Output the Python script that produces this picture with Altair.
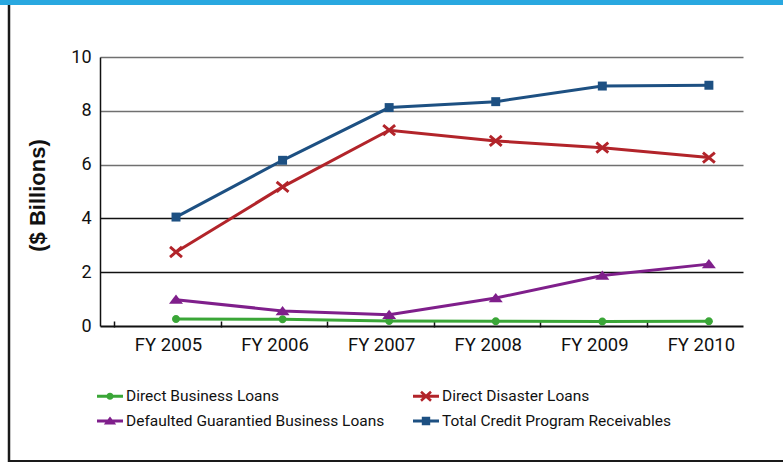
import altair as alt
import pandas as pd
import math

# ---- data ----
years = [2005, 2006, 2007, 2008, 2009, 2010]
series_names = [
    "Direct Business Loans",
    "Direct Disaster Loans",
    "Defaulted Guarantied Business Loans",
    "Total Credit Program Receivables",
]
direct_business = [0.26, 0.25, 0.19, 0.18, 0.17, 0.18]
direct_disaster = [2.75, 5.17, 7.28, 6.88, 6.63, 6.26]
defaulted_guarantied = [0.98, 0.56, 0.42, 1.04, 1.88, 2.30]
total_receivables = [4.05, 6.16, 8.12, 8.34, 8.92, 8.95]
colors = ["#3aa637", "#b2242a", "#7f1f8b", "#1d5082"]

values_by_series = [direct_business, direct_disaster, defaulted_guarantied, total_receivables]
rows = []
for name, vals in zip(series_names, values_by_series):
    for yr, v in zip(years, vals):
        rows.append({"year": yr, "value": v, "series": name})
df = pd.DataFrame(rows)

FONT = "Roboto"


# ---- marker shapes (unit-space SVG paths) ----
def xshape(wx, wy, hw):
    def bar(ax, ay, bx, by):
        dx, dy = bx - ax, by - ay
        L = math.hypot(dx, dy)
        nx, ny = -dy / L * hw, dx / L * hw
        return [(ax + nx, ay + ny), (bx + nx, by + ny), (bx - nx, by - ny), (ax - nx, ay - ny)]

    def cross(p):
        e1 = (p[1][0] - p[0][0], p[1][1] - p[0][1])
        e2 = (p[2][0] - p[1][0], p[2][1] - p[1][1])
        return e1[0] * e2[1] - e1[1] * e2[0]

    out = ""
    for b in (bar(-wx, -wy, wx, wy), bar(-wx, wy, wx, -wy)):
        if cross(b) > 0:
            b = b[::-1]
        out += "M%.3f,%.3f" % b[0] + "".join("L%.3f,%.3f" % p for p in b[1:]) + "Z"
    return out


def circ(r):
    return "M%.3f,0A%.3f,%.3f 0 1,0 %.3f,0A%.3f,%.3f 0 1,0 %.3f,0Z" % (r, r, r, -r, r, r, r)


def sq(h):
    return "M%.3f,%.3fV%.3fH%.3fV%.3fZ" % (-h, -h, h, h, -h)


def tri(w, yb, yt):
    return "M%.3f,%.3fL%.3f,%.3fL0,%.3fZ" % (-w, yb, w, yb, yt)


marker_paths = [circ(0.57), xshape(0.85, 0.72, 0.21), tri(1.0, 0.6, -0.72), sq(0.64)]

bar = "M-1.3,-0.15V0.15H1.3V-0.15Z"
legend_path_by_name = {
    series_names[0]: bar + circ(0.36),
    series_names[1]: bar + xshape(0.5, 0.45, 0.13),
    series_names[2]: bar + tri(0.62, 0.36, -0.45),
    series_names[3]: bar + sq(0.42),
}
color_by_name = dict(zip(series_names, colors))
# legend fills column by column: column 1 = first two entries
legend_order = [series_names[0], series_names[2], series_names[1], series_names[3]]

# ---- encodings ----
x_enc = alt.X(
    "year:Q",
    scale=alt.Scale(domain=[2004.287, 2010.32], nice=False, zero=False),
    axis=alt.Axis(
        values=years,
        labelExpr="'FY ' + datum.value",
        title=None,
        grid=False,
        domain=False,
        offset=-5,
        ticks=True,
        tickSize=6,
        tickWidth=1.5,
        tickColor="#111",
        tickOffset=-62,
        labelOffset=54,
        labelPadding=8,
        labelFont=FONT,
        labelFontSize=18.5,
        labelColor="#111",
    ),
)
y_enc = alt.Y(
    "value:Q",
    scale=alt.Scale(domain=[0, 10], nice=False),
    axis=alt.Axis(
        values=[0, 2, 4, 6, 8, 10],
        title="($ Billions)",
        titleFont="Liberation Sans",
        titleFontSize=22,
        titleFontWeight="bold",
        titleColor="#111",
        titleAngle=270,
        titleAlign="center",
        titleBaseline="middle",
        titleX=-63,
        titleY=138,
        ticks=False,
        domain=True,
        domainColor="#111",
        domainWidth=1.5,
        grid=True,
        gridColor={"condition": {"test": "datum.value <= 4", "value": "#111"}, "value": "#707070"},
        gridWidth={"condition": {"test": "datum.value == 0", "value": 2}, "value": 1.3},
        labelFont=FONT,
        labelFontSize=18,
        labelColor="#111",
        labelPadding=9,
    ),
)

color_noleg = alt.Color("series:N", scale=alt.Scale(domain=series_names, range=colors), legend=None)

lines = alt.Chart(df).mark_line(strokeWidth=3).encode(x=x_enc, y=y_enc, color=color_noleg)

points = alt.Chart(df).mark_point(filled=True, opacity=1, size=196, strokeWidth=0).encode(
    x=x_enc,
    y=y_enc,
    color=color_noleg,
    shape=alt.Shape("series:N", scale=alt.Scale(domain=series_names, range=marker_paths), legend=None),
)

leg = alt.Legend(
    title=None,
    orient="none",
    legendX=0,
    legendY=329,
    columns=2,
    columnPadding=28,
    rowPadding=6,
    symbolSize=400,
    symbolStrokeWidth=0,
    labelFont=FONT,
    labelFontSize=15.5,
    labelColor="#111",
    labelOffset=6,
    labelLimit=400,
)

legend_layer = alt.Chart(df).transform_filter("false").mark_point(filled=True, opacity=1, size=400, strokeWidth=0).encode(
    x=x_enc,
    y=y_enc,
    color=alt.Color(
        "series:N",
        scale=alt.Scale(domain=legend_order, range=[color_by_name[n] for n in legend_order]),
        legend=leg,
    ),
    shape=alt.Shape(
        "series:N",
        scale=alt.Scale(domain=legend_order, range=[legend_path_by_name[n] for n in legend_order]),
        legend=leg,
    ),
)

one = pd.DataFrame({"a": [0]})
top_band = alt.Chart(one).mark_rule(color="#29a8e0", strokeWidth=5).encode(
    x=alt.value(-100), x2=alt.value(683), y=alt.value(-54.5)
)
left_border = alt.Chart(one).mark_rule(color="#1a1a1a", strokeWidth=2.5).encode(
    x=alt.value(-91), y=alt.value(-52), y2=alt.value(405)
)
bottom_border = alt.Chart(one).mark_rule(color="#1a1a1a", strokeWidth=2).encode(
    x=alt.value(-92), x2=alt.value(683), y=alt.value(404)
)

chart = (
    alt.layer(top_band, left_border, bottom_border, lines, points, legend_layer)
    .resolve_scale(color="independent", shape="independent")
    .properties(
        width=643,
        height=269,
        autosize=alt.AutoSizeParams(type="none"),
        padding={"left": 100, "top": 57, "right": 40, "bottom": 136},
        background="white",
    )
    .configure_view(stroke=None)
)

chart.save("out.html", embed_options={"renderer": "svg", "actions": False})
